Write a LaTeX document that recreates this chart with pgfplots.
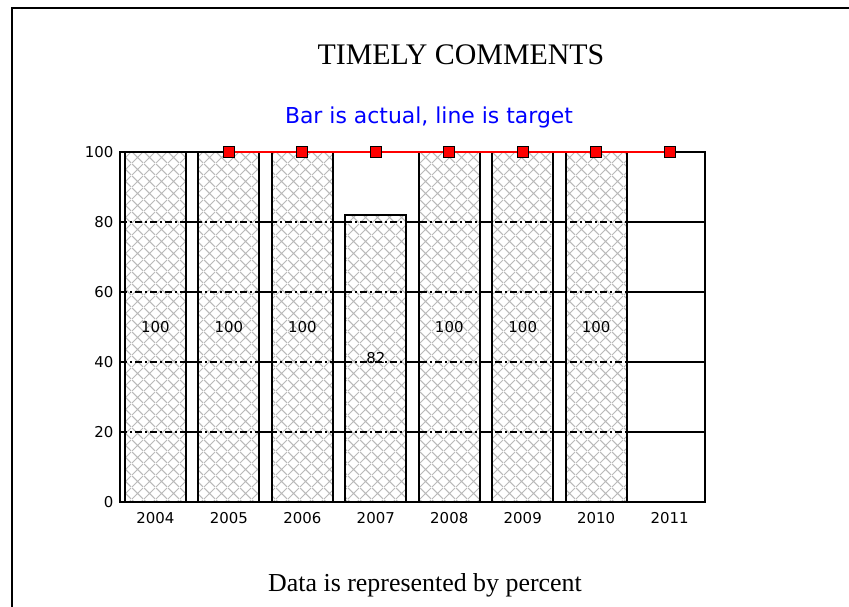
\documentclass[border=0pt]{standalone}
\usepackage{fontspec}
\setmainfont{Liberation Serif}
\newfontfamily\dejavu{DejaVu Sans}
\usepackage{pgfplots}
\pgfplotsset{compat=1.18}
\usetikzlibrary{patterns}

% diagonal cross hatching, one tile
\pgfdeclarepatternformonly{diagcross}{\pgfpointorigin}{\pgfqpoint{12bp}{12bp}}{\pgfqpoint{12bp}{12bp}}{%
  \pgfsetlinewidth{1bp}
  \pgfpathmoveto{\pgfqpoint{0bp}{0bp}}\pgfpathlineto{\pgfqpoint{12bp}{12bp}}
  \pgfpathmoveto{\pgfqpoint{0bp}{12bp}}\pgfpathlineto{\pgfqpoint{12bp}{0bp}}
  \pgfusepath{stroke}}

\pgfplotstableread{
x y
0 100
1 100
2 100
3 82
4 100
5 100
6 100
}\actual

\pgfplotstableread{
x y
1 100
2 100
3 100
4 100
5 100
6 100
7 100
}\target

\begin{document}
\begin{tikzpicture}[x=1bp,y=1bp]
\path[use as bounding box] (0,0) rectangle (849,607);
% slide frame
\draw[line width=2.5bp] (12,-2) -- (12,599) -- (851,599);

\node[anchor=base, font=\fontsize{30}{33}\selectfont] at (461,542) {TIMELY COMMENTS};
\node[anchor=base, text=blue, font=\dejavu\fontsize{22}{26}\selectfont] at (429,483) {Bar is actual, line is target};
\node[anchor=base, font=\fontsize{26}{30}\selectfont] at (425,15) {Data is represented by percent};

\begin{axis}[
    at={(120bp,105bp)}, anchor=south west,
    scale only axis,
    width=585bp, height=350bp,
    xmin=-0.48, xmax=7.48,
    ymin=0, ymax=100,
    xtick={0,...,7},
    xticklabels={2004,2005,2006,2007,2008,2009,2010,2011},
    ytick={0,20,...,100},
    major tick length=0pt,
    tick label style={font=\dejavu\fontsize{15}{17}\selectfont},
    /pgf/number format/assume math mode=true,
    xticklabel style={yshift=-7bp},
    yticklabel style={xshift=-3bp},
    axis line style={line width=1.6bp},
    ymajorgrids,
    major grid style={black, line width=1.4bp},
    clip=false,
    ybar, bar width=0.83, bar shift=0pt,
]
% actual, hatched bars (white ground, diagonal cross hatching, outline)
\addplot[draw=none, fill=white] table[x=x, y=y] {\actual};
\addplot[draw=none, pattern=diagcross, pattern color=gray!55] table[x=x, y=y] {\actual};
\addplot[draw=black, fill=none, line width=1.6bp] table[x=x, y=y] {\actual};

% dashed grid over the bars
\pgfplotsinvokeforeach{20,40,60,80}{
  \draw[black, line width=1.4bp, dash pattern=on 7bp off 3bp on 2bp off 3bp]
    (axis cs:-0.48,#1) -- (axis cs:7.48,#1);
}

% value labels at mid height
\addplot[sharp plot, draw=none, nodes near coords, point meta=explicit symbolic,
    nodes near coords align=center,
    every node near coord/.append style={font=\dejavu\fontsize{15}{17}\selectfont, inner sep=0pt}]
    coordinates {(0,50)[100] (1,50)[100] (2,50)[100] (3,41)[82] (4,50)[100] (5,50)[100] (6,50)[100]};

% target line
\addplot[sharp plot, red, line width=1.6bp, mark=square*, mark size=5.5bp,
    mark options={fill=red, draw=black, line width=1.2bp}]
    table[x=x, y=y] {\target};
\end{axis}
\end{tikzpicture}
\end{document}
